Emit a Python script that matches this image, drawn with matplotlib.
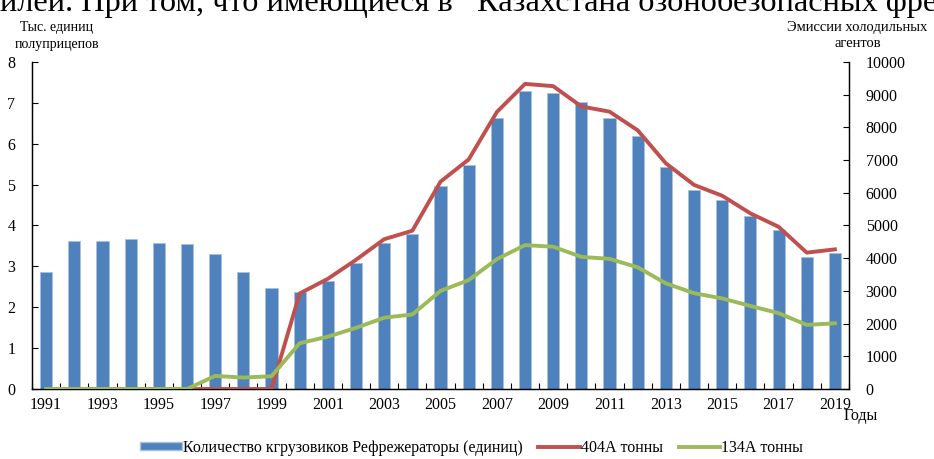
import numpy as np
import matplotlib.pyplot as plt
from matplotlib.patches import Patch
from matplotlib.lines import Line2D

plt.rcParams['font.family'] = ['Liberation Serif', 'DejaVu Serif']

years = list(range(1991, 2020))
trucks = [2.87, 3.61, 3.61, 3.68, 3.58, 3.55, 3.30, 2.87, 2.48, 2.37,
          2.63, 3.09, 3.57, 3.78, 4.96, 5.49, 6.62, 7.30, 7.23, 7.01,
          6.63, 6.19, 5.42, 4.88, 4.62, 4.23, 3.89, 3.24, 3.33]
r404a = [0, 0, 0, 0, 0, 0, 0, 0, 0, 2920,
         3370, 3950, 4580, 4840, 6340, 7020, 8470, 9330, 9260, 8640,
         8480, 7910, 6900, 6240, 5910, 5370, 4960, 4170, 4270]
r134a = [0, 0, 0, 0, 0, 0, 400, 350, 390, 1400,
         1600, 1870, 2180, 2280, 3000, 3330, 3970, 4400, 4350, 4040,
         3980, 3720, 3230, 2930, 2770, 2540, 2320, 1960, 2010]

x = np.arange(len(years))

fig = plt.figure(figsize=(9.34, 4.59), dpi=100)
ax = fig.add_axes([0.0343, 0.1525, 0.8747, 0.7125])
ax2 = ax.twinx()

ax.bar(x, trucks, width=0.43, color='#4F81BD', edgecolor='#A9C1E0', linewidth=0.7, zorder=2)
ax.set_zorder(1)
ax2.set_zorder(2)
ax.patch.set_visible(False)

ax2.plot(x, r404a, color='#C0504D', lw=2.8, solid_joinstyle='round', zorder=3)
ax2.plot(x, r134a, color='#9BBB59', lw=2.8, solid_joinstyle='round', zorder=4)

ax.set_xlim(-0.5, len(years) - 0.5)
ax.set_ylim(0, 8)
ax2.set_ylim(0, 10000)
ax.set_yticks(range(0, 9))
ax2.set_yticks(range(0, 10001, 1000))

# tick marks between categories, labels every second year under the bars
ax.set_xticks(np.arange(-0.5, len(years)), minor=False)
ax.set_xticklabels([])
ax.set_xticks(x[::2], minor=True)
ax.set_xticklabels([str(y) for y in years[::2]], minor=True)
ax.tick_params(axis='x', which='major', direction='in', length=4, width=0.8)
ax.tick_params(axis='x', which='minor', length=0, labelsize=11.5, pad=6)
ax.tick_params(axis='y', direction='in', length=4, width=0.8, labelsize=11.5, pad=12)
ax2.tick_params(axis='y', direction='in', length=4, width=0.8, labelsize=11.5, pad=12)

for a in (ax, ax2):
    a.spines['top'].set_visible(False)
    for s in ('left', 'right', 'bottom'):
        a.spines[s].set_linewidth(0.9)

# line of the surrounding page text, cut at the top as in the source
fig.text(0.0, 0.976, 'илей. При том, что имеющиеся в   Казахстана озонобезопасных фре',
         fontsize=23.3, ha='left', va='baseline')
fig.text(0.061, 0.955, 'Тыс. единиц\nполуприцепов', fontsize=10, ha='center', va='top',
         linespacing=1.4)
fig.text(0.918, 0.955, 'Эмиссии холодильных\nагентов', fontsize=10.5, ha='center', va='top',
         linespacing=1.35)
fig.text(0.922, 0.093, 'Годы', fontsize=11.5, ha='center', va='center')

handles = [Patch(facecolor='#4F81BD', edgecolor='#A9C1E0'),
           Line2D([], [], color='#C0504D', lw=2.8),
           Line2D([], [], color='#9BBB59', lw=2.8)]
labels = ['Количество кгрузовиков Рефрежераторы (единиц)', '404А тонны', '134А тонны']
fig.legend(handles, labels, loc='lower center', bbox_to_anchor=(0.505, -0.024), ncol=3,
           frameon=False, fontsize=11.5, handlelength=2.6, handleheight=0.35,
           handletextpad=0.05, columnspacing=1.0)

fig.savefig('out.png', dpi=100)
